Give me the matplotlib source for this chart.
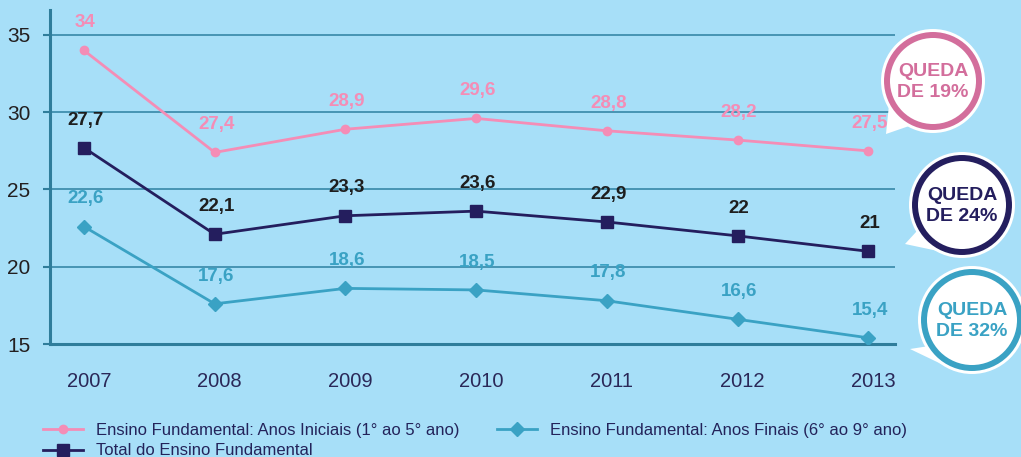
import matplotlib
matplotlib.use('Agg')
import matplotlib.pyplot as plt
import numpy as np
from matplotlib.patches import Circle, Polygon
from matplotlib.transforms import ScaledTranslation

## DADOS
anos = [2007, 2008, 2009, 2010, 2011, 2012, 2013]
anos_iniciais = [34, 27.4, 28.9, 29.6, 28.8, 28.2, 27.5]
total = [27.7, 22.1, 23.3, 23.6, 22.9, 22, 21]
anos_finais = [22.6, 17.6, 18.6, 18.5, 17.8, 16.6, 15.4]
yticks = [15, 20, 25, 30, 35]

nome_iniciais = 'Ensino Fundamental: Anos Iniciais (1° ao 5° ano)'
nome_finais = 'Ensino Fundamental: Anos Finais (6° ao 9° ano)'
nome_total = 'Total do Ensino Fundamental'
quedas = ['QUEDA\nDE 19%', 'QUEDA\nDE 24%', 'QUEDA\nDE 32%']

## CORES
fundo = '#a7dff8'
rosa = '#f48db6'
rosa_escuro = '#d36e9c'
azul_escuro = '#241e5e'
azul = '#3aa2c4'
grade = '#3f8fae'

plt.rcParams['font.family'] = ['Liberation Sans', 'DejaVu Sans']


def rotulo(v):
    return f'{v:g}'.replace('.', ',')


fig = plt.figure(figsize=(10.21, 4.57), dpi=100, facecolor=fundo)
ax = fig.add_axes([50 / 1021, 1 - 344 / 457, 845 / 1021, 334 / 457])
ax.set_facecolor(fundo)

x0 = 2007 - 34 / 130.7
ax.set_xlim(x0, x0 + 845 / 130.7)
ax.set_ylim(15, 15 + 334 / 15.45)

for y in yticks[1:]:
    ax.axhline(y, color=grade, linewidth=1.3, zorder=1)

ax.plot(anos, anos_iniciais, color=rosa, linewidth=2, marker='o', markersize=6, label=nome_iniciais, zorder=3)
ax.plot(anos, total, color=azul_escuro, linewidth=2, marker='s', markersize=8, label=nome_total, zorder=3)
ax.plot(anos, anos_finais, color=azul, linewidth=2, marker='D', markersize=7, label=nome_finais, zorder=3)

# rótulos de valores acima dos pontos
for serie, cor in [(anos_iniciais, rosa), (total, '#1e1e1e'), (anos_finais, azul)]:
    for a, v in zip(anos, serie):
        ax.annotate(rotulo(v), (a, v), textcoords='offset points', xytext=(1, 20),
                    ha='center', va='center', fontsize=13.5, fontweight='bold', color=cor)

for lado in ['top', 'right']:
    ax.spines[lado].set_visible(False)
for lado in ['left', 'bottom']:
    ax.spines[lado].set_color('#2f7d9b')
    ax.spines[lado].set_linewidth(2.2)

ax.set_yticks(yticks)
ax.set_xticks(anos)
ax.tick_params(axis='y', length=5, width=1.5, color='#2f7d9b', pad=9, labelsize=15, labelcolor='#231f20')
ax.tick_params(axis='x', length=0, pad=20, labelsize=14.5, labelcolor='#2a2858')
for lab in ax.get_xticklabels():
    lab.set_transform(lab.get_transform() + ScaledTranslation(0.05, 0, fig.dpi_scale_trans))

## BALÕES
ov = fig.add_axes([0, 0, 1, 1])
ov.set_xlim(0, 1021)
ov.set_ylim(457, 0)
ov.set_aspect('equal')
ov.axis('off')
ov.set_zorder(5)

baloes = [((933, 81), 51, (886, 134), rosa_escuro),
          ((962, 205), 52, (905, 244), azul_escuro),
          ((972, 320), 53, (910, 349), azul)]
for (cx, cy), r, ponta, cor in baloes:
    ang = np.radians([118, 150])
    base = [(cx + r * np.cos(t), cy + r * np.sin(t)) for t in ang]
    ov.add_patch(Polygon([base[0], ponta, base[1]], closed=True, facecolor='white', edgecolor='none', zorder=1))
    ov.add_patch(Circle((cx, cy), r + 1, facecolor='white', edgecolor='none', zorder=1))
    ov.add_patch(Circle((cx, cy), r - 5, facecolor='white', edgecolor=cor, linewidth=4.3, zorder=2))

for ((cx, cy), r, ponta, cor), txt in zip(baloes, quedas):
    ov.text(cx, cy + 1, txt, ha='center', va='center', fontsize=14, fontweight='bold',
            color=cor, linespacing=1.35, zorder=3)

fig.legend(loc='upper left', bbox_to_anchor=(43 / 1021, 1 - 423 / 457), ncol=2, frameon=False,
           fontsize=12, handlelength=2.4, handletextpad=0.8, columnspacing=2.2,
           labelspacing=0.32, labelcolor='#23235a', borderpad=0, borderaxespad=0)

fig.savefig('out.png', dpi=100, facecolor=fundo)
